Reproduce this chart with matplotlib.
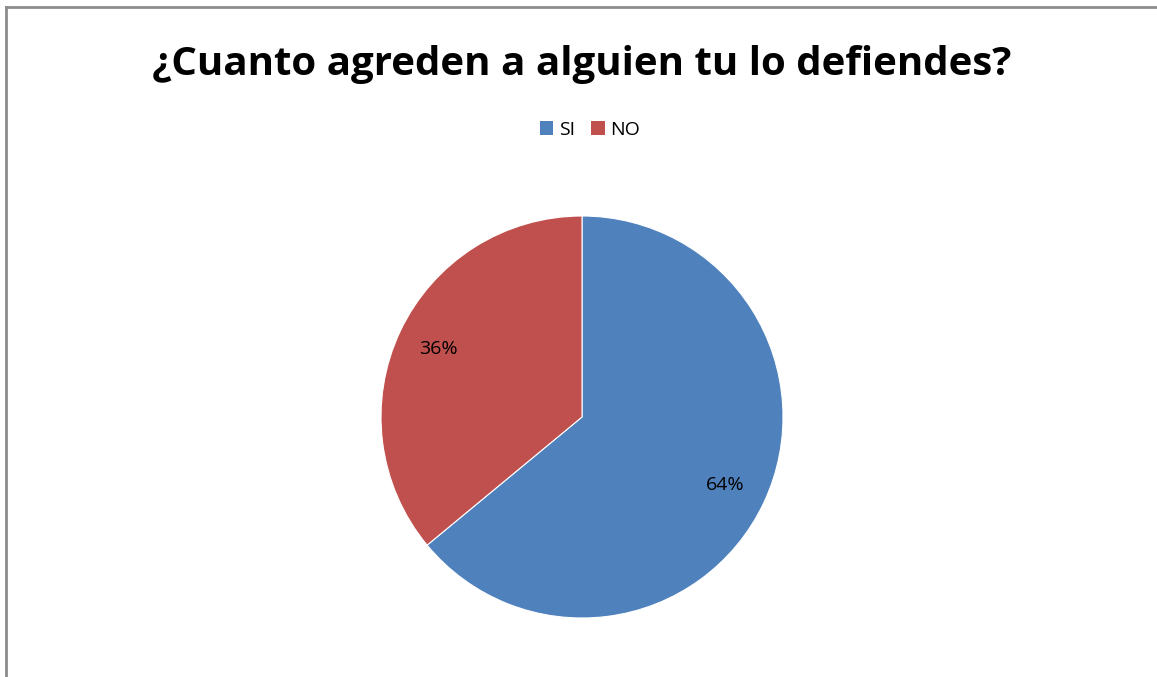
import matplotlib.pyplot as plt
from matplotlib.lines import Line2D
from matplotlib.patches import Patch

labels = ['SI', 'NO']
values = [64, 36]
colors = ['#4F81BD', '#C0504D']
title = '¿Cuanto agreden a alguien tu lo defiendes?'

plt.rcParams['font.family'] = ['Open Sans', 'DejaVu Sans']

W, H = 1157, 677
fig = plt.figure(figsize=(W / 100, H / 100), dpi=100)

# chart border (left and top visible)
fig.add_artist(Line2D([6 / W, 6 / W], [0, 1 - 7 / H], color='#8c8c8c', lw=2))
fig.add_artist(Line2D([6 / W, 1], [1 - 7 / H, 1 - 7 / H], color='#8c8c8c', lw=2))

cx, cy, r = 582, 417, 201
ax = fig.add_axes([(cx - r) / W, (H - cy - r) / H, 2 * r / W, 2 * r / H])
wedges, texts, autotexts = ax.pie(values, colors=colors, startangle=90, counterclock=False,
                                  autopct='%1.0f%%', pctdistance=0.79,
                                  wedgeprops=dict(edgecolor='white', linewidth=0.8),
                                  textprops=dict(fontsize=14, color='black'))
ax.set_xlim(-1, 1)
ax.set_ylim(-1, 1)
ax.set_aspect('equal')

fig.text(cx / W, 1 - 65 / H, title, ha='center', va='center', fontsize=29, fontweight='bold')

handles = [Patch(facecolor=c, label=l) for c, l in zip(colors, labels)]
fig.legend(handles=handles, loc='center', bbox_to_anchor=(590 / W, 1 - 130 / H), ncol=2,
           frameon=False, fontsize=14, handlelength=0.7, handleheight=0.7,
           handletextpad=0.3, columnspacing=0.8)

fig.savefig('out.png', dpi=100)
